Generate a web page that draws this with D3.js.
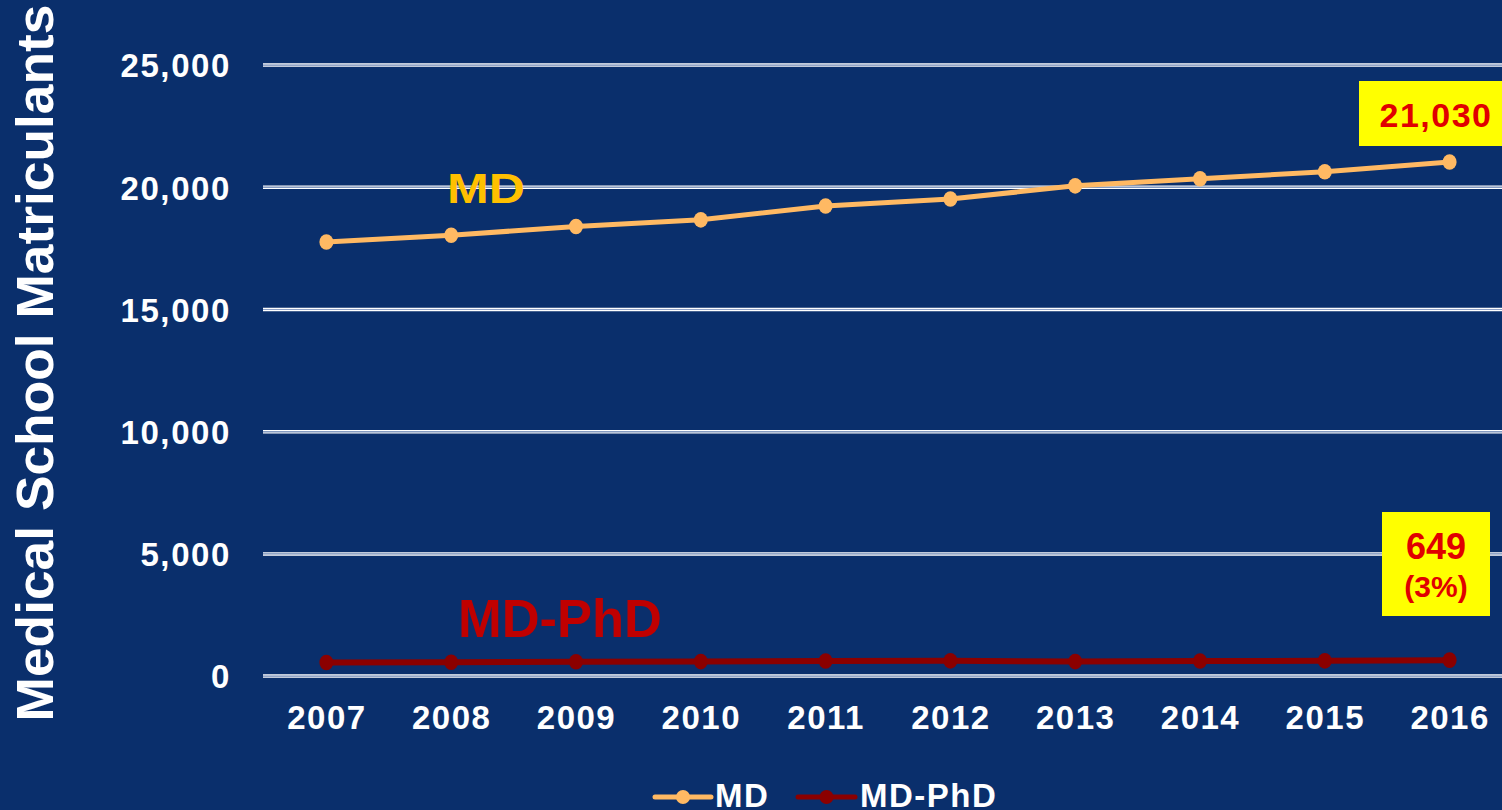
<!DOCTYPE html>
<html>
<head>
<meta charset="utf-8">
<script src="https://cdn.jsdelivr.net/npm/d3@7"></script>
<style>
  html, body { margin: 0; padding: 0; background: #0a2f6c; }
  svg { display: block; }
  text { font-family: "Liberation Sans", Arial, sans-serif; font-weight: bold; }
</style>
</head>
<body>
<svg id="chart" width="1502" height="810"></svg>
<script>
const years = [2007, 2008, 2009, 2010, 2011, 2012, 2013, 2014, 2015, 2016];
const mdValues = [17759, 18036, 18390, 18665, 19230, 19517, 20055, 20343, 20631, 21030];
const mdphdValues = [550, 560, 585, 590, 615, 620, 590, 615, 620, 649];
const yTicks = [0, 5000, 10000, 15000, 20000, 25000];
const seriesNames = ["MD", "MD-PhD"];
const yTitle = "Medical School Matriculants";
const mdCallout = ["21,030"];
const mdphdCallout = ["649", "(3%)"];

const W = 1502, H = 810;
const svg = d3.select("#chart");
svg.append("rect").attr("width", W).attr("height", H).attr("fill", "#0a2f6c");

const x = d3.scalePoint().domain(years).range([264, 1512]).padding(0.5);
const y = d3.scaleLinear().domain([0, 25000]).range([676, 65]);

// gridlines (double white lines)
const grid = svg.append("g");
yTicks.forEach(t => {
  grid.append("line").attr("x1", 263).attr("x2", W)
    .attr("y1", y(t) - 1).attr("y2", y(t) - 1)
    .attr("stroke", "#ffffff").attr("stroke-width", 1.3);
  grid.append("line").attr("x1", 263).attr("x2", W)
    .attr("y1", y(t) + 1.2).attr("y2", y(t) + 1.2)
    .attr("stroke", "#ffffff").attr("stroke-width", 1.3);
  grid.append("line").attr("x1", 263).attr("x2", W)
    .attr("y1", y(t) + 0.1).attr("y2", y(t) + 0.1)
    .attr("stroke", "#9db0d4").attr("stroke-width", 0.9);
});

// y axis
const yAxis = d3.axisLeft(y).tickValues(yTicks).tickSize(0).tickPadding(0)
  .tickFormat(d3.format(","));
const yg = svg.append("g").attr("transform", "translate(231,0)").call(yAxis);
yg.select(".domain").remove();
yg.selectAll("text").attr("fill", "#ffffff").style("font-size", "33px")
  .style("letter-spacing", "1.6px").attr("dy", "0.36em").attr("x", 0);

// x axis
const xAxis = d3.axisBottom(x).tickSize(0).tickPadding(0);
const xg = svg.append("g").attr("transform", "translate(0,729)").call(xAxis);
xg.select(".domain").remove();
xg.selectAll("text").attr("fill", "#ffffff").style("font-size", "33px")
  .style("letter-spacing", "1.5px").attr("dy", 0).attr("y", 0);

// y title
svg.append("text")
  .attr("transform", "translate(53,363) rotate(-90)")
  .attr("text-anchor", "middle")
  .attr("fill", "#ffffff")
  .attr("textLength", 717)
  .attr("lengthAdjust", "spacingAndGlyphs")
  .style("font-size", "52px")
  .text(yTitle);

// lines
const line = d3.line().x((d, i) => x(years[i])).y(d => y(d));
const series = [
  { name: seriesNames[0], values: mdValues, color: "#ffb963", width: 5 },
  { name: seriesNames[1], values: mdphdValues, color: "#8b0000", width: 6 }
];
series.forEach(s => {
  svg.append("path").datum(s.values).attr("d", line)
    .attr("fill", "none").attr("stroke", s.color).attr("stroke-width", s.width)
    .attr("stroke-linejoin", "round");
  svg.append("g").selectAll("ellipse").data(s.values).join("ellipse")
    .attr("cx", (d, i) => x(years[i])).attr("cy", d => y(d))
    .attr("rx", 7).attr("ry", 7.8).attr("fill", s.color);
});

// inline series labels
svg.append("text").attr("x", 447).attr("y", 203).attr("fill", "#ffc000")
  .attr("textLength", 78).attr("lengthAdjust", "spacingAndGlyphs")
  .style("font-size", "43px").text(seriesNames[0]);
svg.append("text").attr("x", 458).attr("y", 637).attr("fill", "#c00000")
  .attr("textLength", 204).attr("lengthAdjust", "spacingAndGlyphs")
  .style("font-size", "54px").text(seriesNames[1]);

// callouts
svg.append("rect").attr("x", 1359).attr("y", 81).attr("width", 150).attr("height", 65)
  .attr("fill", "#ffff00");
svg.append("text").attr("x", 1436).attr("y", 127).attr("text-anchor", "middle")
  .attr("fill", "#e00000").style("font-size", "34px").style("letter-spacing", "1.5px")
  .text(mdCallout[0]);

svg.append("rect").attr("x", 1382).attr("y", 512).attr("width", 108).attr("height", 104)
  .attr("fill", "#ffff00");
svg.append("text").attr("x", 1436).attr("y", 559).attr("text-anchor", "middle")
  .attr("fill", "#e00000").style("font-size", "36px").text(mdphdCallout[0]);
svg.append("text").attr("x", 1436).attr("y", 597).attr("text-anchor", "middle")
  .attr("fill", "#e00000").style("font-size", "30px").text(mdphdCallout[1]);

// legend
const legend = [
  { name: seriesNames[0], color: "#ffb963", x1: 655, x2: 711, tx: 715 },
  { name: seriesNames[1], color: "#8b0000", x1: 798, x2: 855, tx: 860 }
];
legend.forEach(l => {
  svg.append("line").attr("x1", l.x1).attr("x2", l.x2).attr("y1", 797).attr("y2", 797)
    .attr("stroke", l.color).attr("stroke-width", 5).attr("stroke-linecap", "round");
  svg.append("circle").attr("cx", (l.x1 + l.x2) / 2).attr("cy", 797).attr("r", 7)
    .attr("fill", l.color);
  svg.append("text").attr("x", l.tx).attr("y", 807).attr("fill", "#ffffff")
    .style("font-size", "33px").style("letter-spacing", "1.5px").text(l.name);
});
</script>
</body>
</html>
